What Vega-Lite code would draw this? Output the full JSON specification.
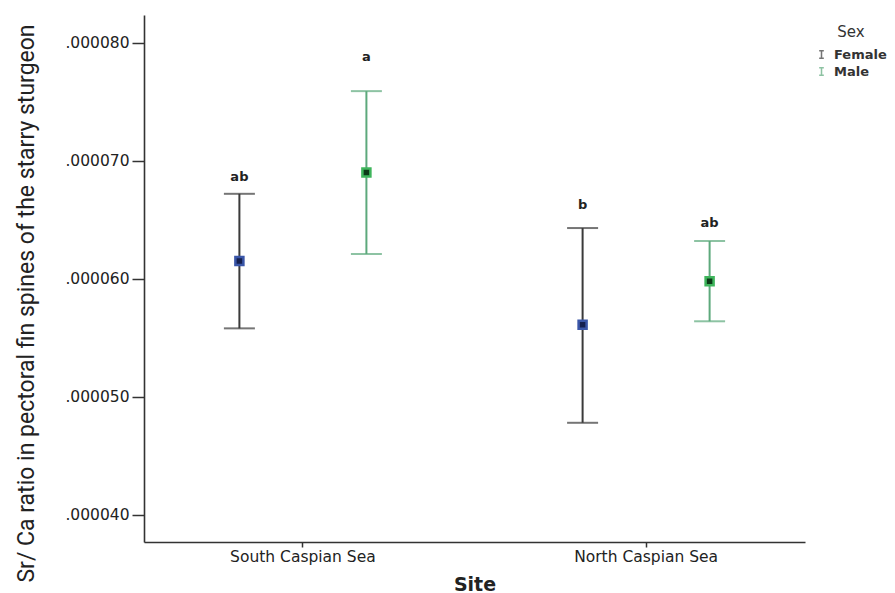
{
  "$schema": "https://vega.github.io/schema/vega-lite/v6.json",
  "width": 661,
  "height": 527,
  "autosize": "none",
  "padding": {"left": 144, "top": 15, "right": 90, "bottom": 51},
  "background": "white",
  "config": {
    "view": {"stroke": null},
    "font": "DejaVu Sans",
    "axis": {"grid": false, "domainColor": "#333333", "domainWidth": 1.6, "tickColor": "#333333", "tickWidth": 1.5, "labelColor": "#222222", "labelFont": "DejaVu Sans", "labelFontSize": 15.5, "titleColor": "#222222"},
    "legend": {"symbolType": "M-0.6,-1H0.6M0,-1V1M-0.6,1H0.6", "symbolStrokeWidth": 1.5, "symbolSize": 60}
  },
  "data": {
    "values": [
      {"site": "South Caspian Sea", "sex": "Female", "mean": 0.0000615, "lower": 0.0000558, "upper": 0.0000672, "label": "ab", "label_at": 0.00006862},
      {"site": "South Caspian Sea", "sex": "Male", "mean": 0.0000690, "lower": 0.0000621, "upper": 0.0000759, "label": "a", "label_at": 0.00007879},
      {"site": "North Caspian Sea", "sex": "Female", "mean": 0.0000561, "lower": 0.0000478, "upper": 0.0000643, "label": "b", "label_at": 0.00006625},
      {"site": "North Caspian Sea", "sex": "Male", "mean": 0.0000598, "lower": 0.0000564, "upper": 0.0000632, "label": "ab", "label_at": 0.00006475}
    ]
  },
  "encoding": {
    "x": {
      "field": "site", "type": "nominal", "sort": ["South Caspian Sea", "North Caspian Sea"],
      "scale": {"type": "band", "paddingInner": 0.1, "paddingOuter": 0.013},
      "axis": {"title": "Site", "labelAngle": 0, "tickSize": 5, "labelPadding": 2, "titleFont": "DejaVu Sans", "titleFontSize": 19, "titleFontWeight": "bold", "titleY": 48, "titleBaseline": "alphabetic"}
    },
    "xOffset": {"field": "sex", "type": "nominal", "sort": ["Female", "Male"], "scale": {"paddingInner": 0, "paddingOuter": 0.216}}
  },
  "layer": [
    {
      "mark": {"type": "rule", "strokeWidth": 2},
      "encoding": {
        "y": {
          "field": "lower", "type": "quantitative",
          "scale": {"domain": [0.0000377, 0.00008235], "nice": false, "zero": false},
          "axis": {
            "title": "Sr/ Ca ratio in pectoral fin spines of the starry sturgeon",
            "values": [0.00004, 0.00005, 0.00006, 0.00007, 0.00008],
            "labelExpr": "replace(format(datum.value, '.6f'), /^0/, '')",
            "tickSize": 12, "labelPadding": 3,
            "titleFont": "Roboto", "titleFontSize": 23, "titleFontWeight": "normal",
            "titleAngle": -90, "titleX": -118, "titleY": 288, "titleBaseline": "middle", "titleAlign": "center"
          }
        },
        "y2": {"field": "upper"},
        "color": {
          "field": "sex", "type": "nominal",
          "scale": {"domain": ["Female", "Male"], "range": ["#3a3a3a", "#5da97c"]},
          "legend": {"title": "Sex", "orient": "none", "legendX": 671, "legendY": 10, "titleAnchor": "middle", "titleFont": "DejaVu Sans", "titleFontSize": 15, "titleFontWeight": "normal", "titleColor": "#333333", "labelFont": "DejaVu Sans", "labelFontSize": 13, "labelFontWeight": "bold", "labelColor": "#333333", "rowPadding": 2, "titlePadding": 8, "labelOffset": 6}
        }
      }
    },
    {
      "mark": {"type": "tick", "size": 31, "thickness": 2},
      "encoding": {
        "y": {"field": "upper", "type": "quantitative"},
        "color": {"field": "sex", "type": "nominal"}
      }
    },
    {
      "mark": {"type": "tick", "size": 31, "thickness": 2},
      "encoding": {
        "y": {"field": "lower", "type": "quantitative"},
        "color": {"field": "sex", "type": "nominal"}
      }
    },
    {
      "mark": {"type": "point", "shape": "square", "size": 64, "strokeWidth": 2.5, "filled": true, "opacity": 1},
      "encoding": {
        "y": {"field": "mean", "type": "quantitative"},
        "fill": {"field": "sex", "type": "nominal", "scale": {"domain": ["Female", "Male"], "range": ["#15204f", "#0d3a18"]}, "legend": null},
        "stroke": {"field": "sex", "type": "nominal", "scale": {"domain": ["Female", "Male"], "range": ["#3a56a8", "#3fb55c"]}, "legend": null}
      }
    },
    {
      "mark": {"type": "text", "font": "DejaVu Sans", "fontSize": 13, "fontWeight": "bold", "color": "#222222", "baseline": "middle"},
      "encoding": {
        "y": {"field": "label_at", "type": "quantitative"},
        "text": {"field": "label", "type": "nominal"}
      }
    }
  ]
}
